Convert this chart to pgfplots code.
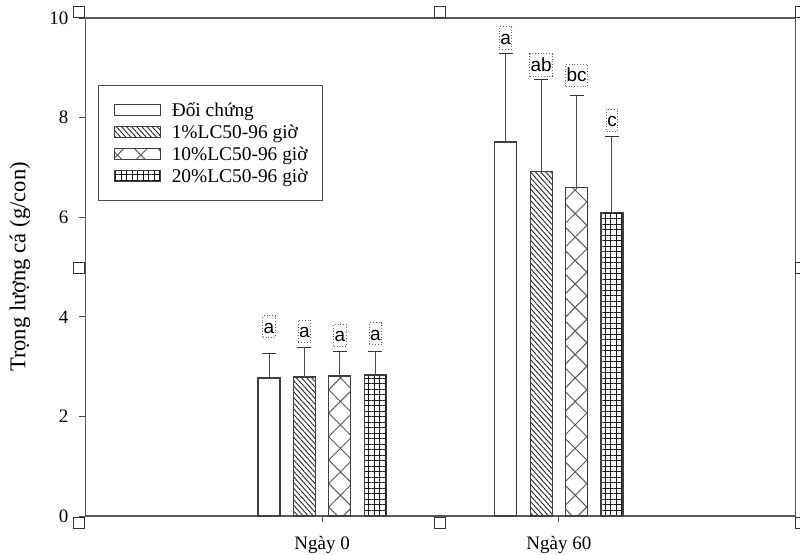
\documentclass[border=0pt]{standalone}
\usepackage{fontspec}
\setmainfont{Liberation Serif}
\newfontfamily\arialf{Liberation Sans}
\usepackage{pgfplots}
\usepackage{pgfplotstable}
\pgfplotsset{compat=1.18}
\usetikzlibrary{patterns.meta}

% x: 0 = Ngay 0, 1 = Ngay 60 ; y = mean ; e = +error
\pgfplotstableread{
x y e
0 2.77 0.50
1 7.51 1.78
}\tA
\pgfplotstableread{
x y e
0 2.79 0.59
1 6.91 1.86
}\tB
\pgfplotstableread{
x y e
0 2.81 0.49
1 6.59 1.86
}\tC
\pgfplotstableread{
x y e
0 2.83 0.47
1 6.09 1.53
}\tD

\pgfplotsset{
  mybar/.style={draw=black!75, line width=0.6pt, fill=white,
    legend image code/.code={\draw[##1] (0pt,-2.75pt) rectangle (23pt,2.75pt);}},
  myerr/.style={error bars/.cd, y dir=plus, y explicit,
    error bar style={black!70, line width=0.5pt},
    error mark options={rotate=90, black!80, line width=0.6pt, mark size=3.5pt}},
}
\tikzset{lbl/.style={font=\arialf\fontsize{9.5}{10}\selectfont, draw=black!60, densely dotted,
  inner xsep=0.4pt, inner ysep=0.5pt, text height=8.3pt, text depth=1.8pt}}

\begin{document}
\begin{tikzpicture}
\useasboundingbox (-42.75pt,-19pt) rectangle (357.25pt,258pt);
\begin{axis}[
  scale only axis, width=355pt, height=249pt,
  xmin=-1, xmax=2, ymin=0, ymax=10,
  ybar=6.7pt, bar width=11pt,
  xtick={0,1}, xticklabels={Ngày 0, Ngày 60},
  ytick={0,2,4,6,8,10},
  tick pos=left, tick align=outside,
  major tick length=3pt,
  tick style={black!70, line width=0.5pt},
  axis line style={black!65, line width=0.75pt},
  /pgf/number format/assume math mode=true,
  ticklabel style={font=\fontsize{9.5}{10}\selectfont},
  yticklabel style={xshift=-2pt},
  xticklabel style={yshift=-3.5pt},
  ylabel={Trọng lượng cá (g/con)},
  every axis y label/.style={at={(axis description cs:-0.0922,0.5)}, rotate=90, anchor=center,
    font=\fontsize{11.3}{12}\selectfont},
  legend style={at={(rel axis cs:0.0176,0.8655)}, anchor=north west,
    draw=black!70, line width=0.6pt, fill=white,
    inner xsep=7.5pt, inner ysep=7.5pt, row sep=1.5pt,
    font=\fontsize{9.7}{10}\selectfont,
    nodes={inner sep=0pt, text height=7.8pt, text depth=1.7pt},
    /tikz/every odd column/.append style={column sep=5.5pt}},
  legend cell align=left,
]
\addplot[mybar, myerr] table[x=x, y=y, y error=e]{\tA};
\addlegendentry{Đối chứng}
\addplot[mybar, postaction={pattern={Lines[angle=-48,distance=1.9pt,line width=0.45pt]}, pattern color=black!85}, myerr]
  table[x=x, y=y, y error=e]{\tB};
\addlegendentry{1\%LC50-96 giờ}
\addplot[mybar, postaction={pattern={Hatch[angle=45,distance=8.3pt,line width=0.5pt]}, pattern color=black!65}, myerr]
  table[x=x, y=y, y error=e]{\tC};
\addlegendentry{10\%LC50-96 giờ}
\addplot[mybar, postaction={pattern={Hatch[angle=0,distance=2.75pt,line width=0.45pt]}, pattern color=black!90}, myerr]
  table[x=x, y=y, y error=e]{\tD};
\addlegendentry{20\%LC50-96 giờ}

\node[lbl] at (axis cs:-0.225,3.80) {a};
\node[lbl] at (axis cs:-0.075,3.71) {a};
\node[lbl] at (axis cs:0.075,3.63) {a};
\node[lbl] at (axis cs:0.225,3.66) {a};
\node[lbl] at (axis cs:0.775,9.60) {a};
\node[lbl] at (axis cs:0.925,9.06) {ab};
\node[lbl] at (axis cs:1.075,8.85) {bc};
\node[lbl] at (axis cs:1.225,7.95) {c};
\end{axis}
\foreach \x/\y in {-3pt/-3.25pt, 177.25pt/-3.25pt, 358pt/-3.25pt, -3pt/124.25pt, 358pt/124.25pt, -3pt/252.25pt, 177.25pt/252.25pt, 358pt/252.25pt}
  \draw[black!80, fill=white, line width=0.5pt] ({\x-2.75pt},{\y-2.75pt}) rectangle ++(5.5pt,5.5pt);
\end{tikzpicture}
\end{document}
